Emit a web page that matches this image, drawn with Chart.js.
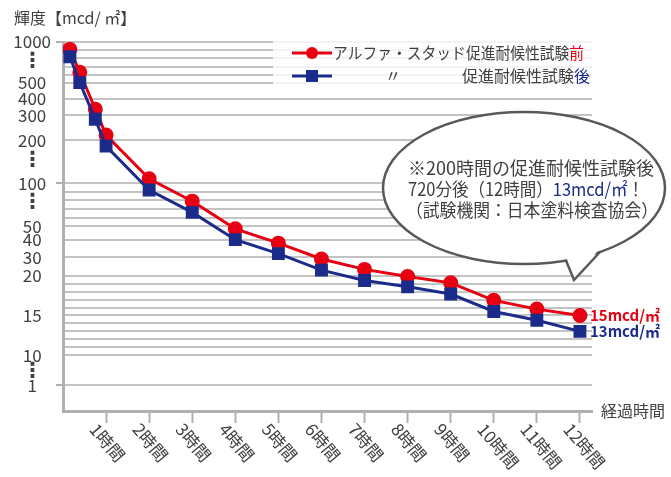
<!DOCTYPE html>
<html>
<head>
<meta charset="utf-8">
<script src="https://cdn.jsdelivr.net/npm/chart.js@4"></script>
<style>
  html, body { margin: 0; padding: 0; background: #fff; }
  canvas { display: block; }
</style>
</head>
<body>
<canvas id="chart" width="671" height="477"></canvas>
<script>
// data
const hours = [0.16, 0.39, 0.75, 1, 2, 3, 4, 5, 6, 7, 8, 9, 10, 11, 12];
const before = [910, 630, 335, 220, 110, 79, 48, 38, 29, 23.4, 19.9, 19.1, 16.9, 15.8, 15];
const after = [820, 505, 283, 186, 92, 66, 40, 32, 23, 19.4, 18.6, 17.7, 15.5, 14.4, 13];
const hourTicks = [1, 2, 3, 4, 5, 6, 7, 8, 9, 10, 11, 12];
const yLabelValues = [1000, 500, 400, 300, 200, 100, 50, 40, 30, 20, 15, 10, 1];
const yDotValues = [760, 152, 77, 5.2];
const yGridValues = [1000, 900, 800, 700, 600, 500, 400, 300, 200, 100, 90, 80, 70, 60, 50, 40, 30,
  20, 19, 18, 17, 16, 15, 14, 13, 12, 11, 10, 1];
const endLabels = ['15mcd/㎡', '13mcd/㎡'];

const RED = '#e60012';
const BLUE = '#1b2b8a';
const TEXT = '#404040';
const GRID = '#c3c3c3';
const AXIS = '#b0b0b0';
const JP = '"Noto Sans CJK JP", "Noto Sans", sans-serif';

// the value axis is broken: each labelled value sits at its own height (fraction of the axis)
const yAnchors = [
  [0, 0], [1, 0.0697], [10, 0.151], [20, 0.3667], [30, 0.4169], [40, 0.4643], [50, 0.501],
  [100, 0.6176], [200, 0.7342], [300, 0.802], [400, 0.8468], [500, 0.8888], [1000, 1]
];
function yFrac(v) {
  for (let i = 1; i < yAnchors.length; i++) {
    const [v0, f0] = yAnchors[i - 1], [v1, f1] = yAnchors[i];
    if (v <= v1) return f0 + (v - v0) / (v1 - v0) * (f1 - f0);
  }
  return 1;
}
function yValue(f) {
  for (let i = 1; i < yAnchors.length; i++) {
    const [v0, f0] = yAnchors[i - 1], [v1, f1] = yAnchors[i];
    if (f <= f1) return v0 + (f - f0) / (f1 - f0) * (v1 - v0);
  }
  return 1000;
}

class BrokenScale extends Chart.LinearScale {
  getPixelForValue(v) { return this.getPixelForDecimal(yFrac(v)); }
  getValueForPixel(p) { return yValue(this.getDecimalForPixel(p)); }
}
BrokenScale.id = 'broken';
BrokenScale.defaults = Chart.LinearScale.defaults;
Chart.register(BrokenScale);

const tickVal = ctx => (ctx && ctx.tick ? ctx.tick.value : null);

// rich text helper: parts = [[text, color], ...], squeezed to maxW if needed
function drawParts(ctx, parts, x, y, maxW) {
  const total = parts.reduce((s, p) => s + ctx.measureText(p[0]).width, 0);
  const k = maxW && total > maxW ? maxW / total : 1;
  ctx.save();
  ctx.translate(x, y);
  ctx.scale(k, 1);
  let cx = 0;
  parts.forEach(p => {
    ctx.fillStyle = p[1];
    ctx.fillText(p[0], cx, 0);
    cx += ctx.measureText(p[0]).width;
  });
  ctx.restore();
  return total * k;
}

const decor = {
  id: 'decor',
  afterDraw(chart) {
    const { ctx, scales: { x, y } } = chart;
    ctx.save();
    ctx.textBaseline = 'middle';
    ctx.textAlign = 'left';

    // axis titles
    ctx.fillStyle = TEXT;
    ctx.font = '16px ' + JP;
    ctx.fillText('輝度【mcd/ ㎡】', 14, 18);
    ctx.fillText('経過時間', 601, 411);

    // slanted hour labels
    ctx.font = '17px ' + JP;
    hourTicks.forEach(h => {
      ctx.save();
      ctx.translate(x.getPixelForValue(h), 423);
      ctx.rotate(50 * Math.PI / 180);
      ctx.textBaseline = 'top';
      ctx.fillText(h + '時間', -6, 3);
      ctx.restore();
    });

    // legend box
    ctx.fillStyle = 'rgba(255,255,255,0.8)';
    ctx.fillRect(273, 37, 320, 55);
    const ds = chart.data.datasets;
    const rows = [
      { y: 53, color: RED, style: 'circle' },
      { y: 76, color: BLUE, style: 'rect' }
    ];
    rows.forEach(r => {
      ctx.strokeStyle = r.color;
      ctx.lineWidth = 3;
      ctx.beginPath(); ctx.moveTo(292, r.y); ctx.lineTo(332, r.y); ctx.stroke();
      ctx.fillStyle = r.color;
      if (r.style === 'circle') {
        ctx.beginPath(); ctx.arc(312, r.y, 6, 0, Math.PI * 2); ctx.fill();
      } else {
        ctx.fillRect(306, r.y - 6, 12, 12);
      }
    });
    ctx.font = '16px ' + JP;
    const lab1 = ds[0].label;
    drawParts(ctx, [[lab1.slice(0, -1), TEXT], [lab1.slice(-1), RED]], 333, rows[0].y, 251);
    ctx.fillStyle = TEXT;
    ctx.fillText('〃', 385, rows[1].y);
    const lab2 = ds[1].label.replace('アルファ・スタッド', '');
    ctx.textAlign = 'right';
    ctx.fillStyle = BLUE;
    ctx.fillText(lab2.slice(-1), 590, rows[1].y);
    const w = ctx.measureText(lab2.slice(-1)).width;
    ctx.fillStyle = TEXT;
    ctx.fillText(lab2.slice(0, -1), 590 - w, rows[1].y);
    ctx.textAlign = 'left';

    // end labels
    ctx.font = 'bold 15px ' + JP;
    [before, after].forEach((arr, i) => {
      ctx.fillStyle = i === 0 ? RED : BLUE;
      ctx.fillText(endLabels[i], x.getPixelForValue(hours[hours.length - 1]) + 10,
        y.getPixelForValue(arr[arr.length - 1]));
    });

    // speech bubble
    const cx = 524, cy = 188, rx = 141, ry = 76;
    const ey = xx => cy + ry * Math.sqrt(1 - Math.pow((xx - cx) / rx, 2));
    const tail = [[566, ey(566)], [574, 280], [600, ey(600)]];
    ctx.fillStyle = '#fff';
    ctx.strokeStyle = '#595959';
    ctx.lineWidth = 2.5;
    ctx.beginPath(); ctx.ellipse(cx, cy, rx, ry, 0, 0, Math.PI * 2); ctx.fill(); ctx.stroke();
    ctx.beginPath();
    ctx.moveTo(tail[0][0], tail[0][1] - 4);
    ctx.lineTo(tail[1][0], tail[1][1]);
    ctx.lineTo(tail[2][0], tail[2][1] - 4);
    ctx.closePath(); ctx.fill();
    ctx.beginPath();
    ctx.moveTo(tail[0][0], tail[0][1]);
    ctx.lineTo(tail[1][0], tail[1][1]);
    ctx.lineTo(tail[2][0], tail[2][1]);
    ctx.stroke();

    ctx.font = '18px ' + JP;
    drawParts(ctx, [['※200時間の促進耐候性試験後', TEXT]], 408, 168, 250);
    drawParts(ctx, [['720分後（12時間）', TEXT], ['13mcd/㎡', BLUE], ['！', TEXT]], 408, 189, 236);
    drawParts(ctx, [['（試験機関：日本塗料検査協会）', TEXT]], 406, 210, 252);
    ctx.restore();
  }
};

new Chart(document.getElementById('chart'), {
  type: 'line',
  data: {
    datasets: [
      {
        label: 'アルファ・スタッド促進耐候性試験前',
        data: hours.map((h, i) => ({ x: h, y: before[i] })),
        borderColor: RED, backgroundColor: RED,
        borderWidth: 3, pointRadius: 6, pointStyle: 'circle',
        order: 1
      },
      {
        label: 'アルファ・スタッド促進耐候性試験後',
        data: hours.map((h, i) => ({ x: h, y: after[i] })),
        borderColor: BLUE, backgroundColor: BLUE,
        borderWidth: 3, pointRadius: 7, pointStyle: 'rect',
        order: 0
      }
    ]
  },
  options: {
    responsive: false,
    animation: false,
    layout: { padding: { top: 42, right: 79, left: 0, bottom: 0 } },
    plugins: {
      legend: { display: false },
      tooltip: { enabled: false }
    },
    scales: {
      x: {
        type: 'linear',
        min: 0, max: 12.28,
        afterBuildTicks: s => { s.ticks = hourTicks.map(v => ({ value: v })); },
        afterFit: s => { s.height = 66; },
        ticks: { display: false },
        grid: { drawOnChartArea: false, tickLength: 12, tickColor: AXIS, tickWidth: 2 },
        border: { color: AXIS, width: 3 }
      },
      y: {
        type: 'broken',
        min: 0, max: 1000,
        afterBuildTicks: s => {
          s.ticks = yGridValues.concat(yDotValues).map(v => ({ value: v }));
        },
        afterFit: s => { s.width = 63; },
        ticks: {
          autoSkip: false,
          padding: 5,
          crossAlign: 'center',
          color: TEXT,
          font: ctx => yDotValues.includes(tickVal(ctx))
            ? { family: 'DejaVu Sans', size: 21, weight: 'bold' }
            : { family: JP, size: 17 },
          callback: v => yLabelValues.includes(v) ? String(v) : (yDotValues.includes(v) ? '⋮' : '')
        },
        grid: {
          color: ctx => yGridValues.includes(tickVal(ctx)) ? GRID : 'rgba(0,0,0,0)',
          lineWidth: 2,
          tickLength: 7,
          tickColor: ctx => [1000, 100, 1].includes(tickVal(ctx)) ? AXIS : 'rgba(0,0,0,0)',
          tickWidth: 2
        },
        border: { color: AXIS, width: 3 }
      }
    }
  },
  plugins: [decor]
});
</script>
</body>
</html>
